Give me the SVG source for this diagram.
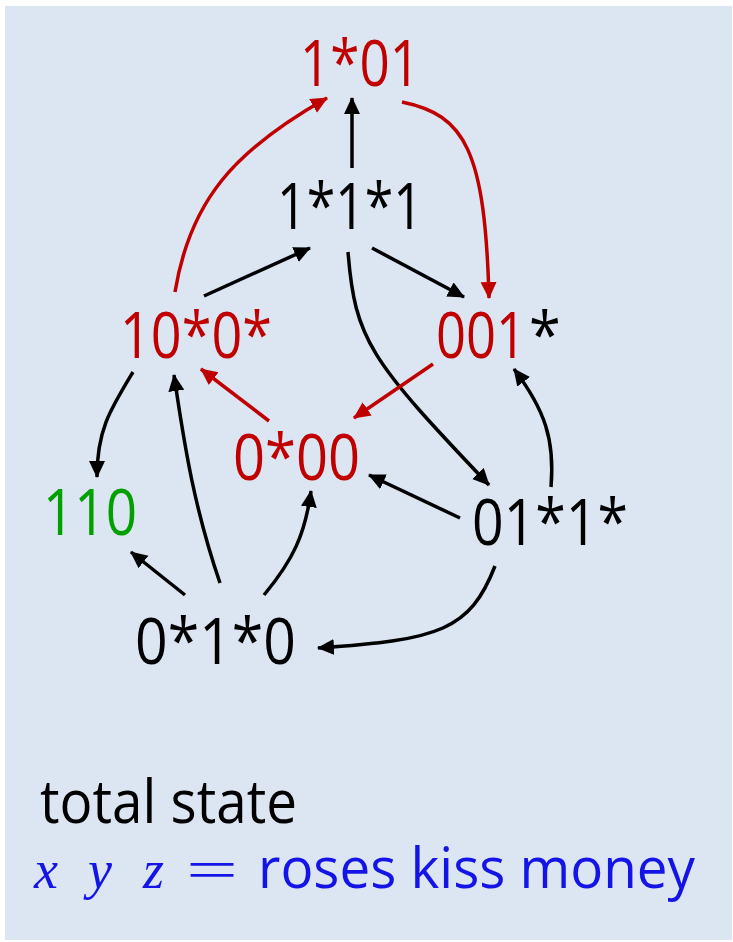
<svg xmlns="http://www.w3.org/2000/svg" width="733" height="942" viewBox="0 0 733 942">
<style>
.n{font-family:"Open Sans","Noto Sans",sans-serif;font-size:64px}
.r{fill:#c00000}.k{fill:#000}.g{fill:#00a000}
.e{fill:none;stroke-width:3.5}
.ek{stroke:#000}.er{stroke:#c00000}
.lbl{font-family:"Open Sans","Noto Sans",sans-serif;font-size:60px}
.m{font-family:"Liberation Serif",serif;font-style:italic;font-size:54px;fill:#1414e6}
</style>
<defs>
<marker id="ak" markerUnits="userSpaceOnUse" markerWidth="20" markerHeight="18" refX="16" refY="8" orient="auto"><path d="M0,0 L17,8 L0,16 Z" fill="#000"/></marker>
<marker id="ar" markerUnits="userSpaceOnUse" markerWidth="20" markerHeight="18" refX="16" refY="8" orient="auto"><path d="M0,0 L17,8 L0,16 Z" fill="#c00000"/></marker>
</defs>
<rect x="5" y="6" width="727" height="934" fill="#dce6f2"/>
<g id="connectors">
<path class="e er" d="M175,292 C190,200 235,150 327,98" marker-end="url(#ar)"/>
<path class="e ek" d="M352,168 L352,98" marker-end="url(#ak)"/>
<path class="e er" d="M402,102 C465,115 485,150 489,298" marker-end="url(#ar)"/>
<path class="e ek" d="M204,296 L310,248" marker-end="url(#ak)"/>
<path class="e ek" d="M372,248 L464,297" marker-end="url(#ak)"/>
<path class="e ek" d="M348,252 C355,340 370,360 489,485" marker-end="url(#ak)"/>
<path class="e er" d="M433,364 L354,418" marker-end="url(#ar)"/>
<path class="e er" d="M269,421 L201,369" marker-end="url(#ar)"/>
<path class="e ek" d="M133,372 C110,410 97,430 97,477" marker-end="url(#ak)"/>
<path class="e ek" d="M220,583 C195,510 185,450 174,375" marker-end="url(#ak)"/>
<path class="e ek" d="M185,595 L131,552" marker-end="url(#ak)"/>
<path class="e ek" d="M264,595 C293,560 305,535 311,491" marker-end="url(#ak)"/>
<path class="e ek" d="M460,518 L369,475" marker-end="url(#ak)"/>
<path class="e ek" d="M551,487 C555,440 545,410 514,369" marker-end="url(#ak)"/>
<path class="e ek" d="M495,566 C470,630 440,640 318,648" marker-end="url(#ak)"/>
</g>
<g id="n1x01"><text class="n r" x="300" y="86" textLength="120" lengthAdjust="spacingAndGlyphs">1*01</text></g>
<g id="n1x1x1"><text class="n k" x="277" y="229" textLength="146" lengthAdjust="spacingAndGlyphs">1*1*1</text></g>
<g id="n10x0x"><text class="n r" x="120" y="358" textLength="152" lengthAdjust="spacingAndGlyphs">10*0*</text></g>
<g id="n001x"><text class="n r" transform="translate(436,358) scale(0.82,1)" x="0" y="0">001</text><text class="n k" transform="translate(529,358) scale(0.9,1)" x="0" y="0">*</text></g>
<g id="n0x00"><text class="n r" x="233" y="480" textLength="127" lengthAdjust="spacingAndGlyphs">0*00</text></g>
<g id="n110"><text class="n g" x="43" y="535" textLength="94" lengthAdjust="spacingAndGlyphs">110</text></g>
<g id="n01x1x"><text class="n k" x="472" y="545" textLength="156" lengthAdjust="spacingAndGlyphs">01*1*</text></g>
<g id="n0x1x0"><text class="n k" x="135" y="664" textLength="161" lengthAdjust="spacingAndGlyphs">0*1*0</text></g>
<g id="legend">
<text class="lbl k" x="40" y="823" textLength="257" lengthAdjust="spacingAndGlyphs">total state</text>
<text class="m" x="34" y="888">x</text>
<text class="m" x="88" y="888">y</text>
<text class="m" x="143" y="888">z</text>
<text x="186" y="888" font-family="Liberation Serif,serif" font-size="54" fill="#1414e6" textLength="52" lengthAdjust="spacingAndGlyphs">=</text>
<text x="258" y="888" font-family="Open Sans,Noto Sans,sans-serif" font-size="56" fill="#1414e6" textLength="437" lengthAdjust="spacingAndGlyphs">roses kiss money</text>
</g>
</svg>
